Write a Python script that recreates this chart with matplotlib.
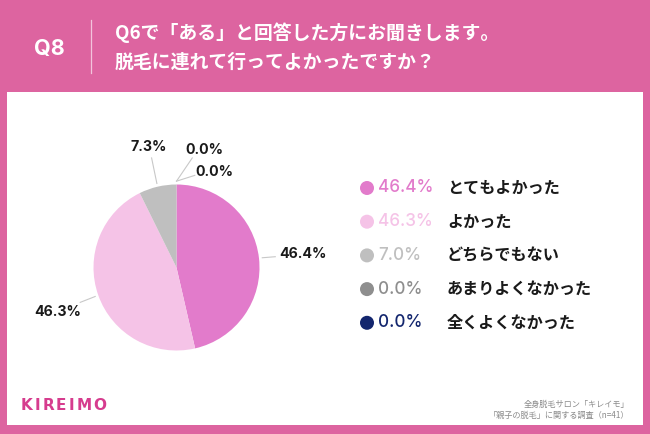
import matplotlib
matplotlib.use('Agg')
import numpy as np
import matplotlib.pyplot as plt
from matplotlib.patches import Rectangle, Circle

plt.rcParams['font.family'] = ['Noto Sans CJK JP', 'DejaVu Sans']
NUM_FONT = ['Inter', 'DejaVu Sans']

# ── data ────────────────────────────────────────────────────────────────────
categories = ['とてもよかった', 'よかった', 'どちらでもない', 'あまりよくなかった', '全くよくなかった']
pie_values = [46.4, 46.3, 7.3, 0.0, 0.0]
legend_pct = ['46.4%', '46.3%', '7.0%', '0.0%', '0.0%']
colors = ['#E27BCB', '#F5C3E7', '#BFBFBF', '#8E8E8E', '#13266E']

title_lines = ['Q6で「ある」と回答した方にお聞きします。', '脱毛に連れて行ってよかったですか？']
source_lines = ['全身脱毛サロン「キレイモ」', '「親子の脱毛」に関する調査（n=41）']

PINK = '#DD64A0'
W, H = 650, 434

fig = plt.figure(figsize=(6.5, 4.34), dpi=100)
fig.patch.set_facecolor(PINK)

# background / frame axes in pixel coords
bg = fig.add_axes([0, 0, 1, 1])
bg.set_xlim(0, W)
bg.set_ylim(H, 0)
bg.axis('off')
bg.add_patch(Rectangle((7, 92), 636, 333, facecolor='white', edgecolor='none'))

# header
bg.text(49, 49, 'Q8', color='white', fontsize=15.5, fontweight='bold',
        family=NUM_FONT, ha='center', va='center')
bg.plot([91, 91], [20, 73], color='#F3C4DC', lw=0.9)
for i, line in enumerate(title_lines):
    bg.text(115, 33 + i * 29, line, color='white', fontsize=13.6, fontweight='bold',
            ha='left', va='center')

# legend
for i, (cat, pct, col) in enumerate(zip(categories, legend_pct, colors)):
    y = 188 + i * 33.7
    bg.add_patch(Circle((367, y), 7, facecolor=col, edgecolor='none'))
    bg.text(378, y, pct, color=col, fontsize=12.3, fontweight='medium',
            family=NUM_FONT, ha='left', va='center')
    bg.text(447, y, cat, color='#1A1A1A', fontsize=11.6, fontweight='bold',
            ha='left', va='center')

# footer: brand with wide letter spacing
brand_steps = {'K': 13.5, 'I': 8.0, 'R': 13.5, 'E': 12.5, 'M': 17.0, 'O': 13.0}
bx = 21
for ch in 'KIREIMO':
    bg.text(bx, 405, ch, color='#D63C8E', fontsize=11, fontweight='bold',
            family=['DejaVu Sans'], ha='left', va='center')
    bx += brand_steps[ch]
for i, line in enumerate(source_lines):
    bg.text(629, 404 + i * 11.5, line, color='#8A8A8A', fontsize=5.9,
            ha='right', va='center')

# ── pie ─────────────────────────────────────────────────────────────────────
cx, cy, r = 176.5, 267.5, 83
ax = fig.add_axes([(cx - r) / W, (H - cy - r) / H, 2 * r / W, 2 * r / H])
wedges, _ = ax.pie(pie_values, colors=colors, startangle=90, counterclock=False,
                   radius=1, wedgeprops=dict(linewidth=0))
ax.set_xlim(-1, 1)
ax.set_ylim(-1, 1)
ax.set_aspect('equal')
ax.axis('off')

# label placement (radius units): text position and leader end
label_pos = [(1.52, 0.16), (-1.43, -0.54), (-0.33, 1.45), (0.34, 1.42), (0.46, 1.15)]
leader_end = [(1.19, 0.13), (-1.16, -0.42), (-0.30, 1.32), (0.19, 1.32), (0.22, 1.11)]
for w, v, tp, le in zip(wedges, pie_values, label_pos, leader_end):
    ang = np.deg2rad((w.theta1 + w.theta2) / 2)
    sx, sy = 1.04 * np.cos(ang), 1.04 * np.sin(ang)
    ax.plot([sx, le[0]], [sy, le[1]], color='#C8C8C8', lw=0.8, clip_on=False)
    ax.text(tp[0], tp[1], f'{v:.1f}%', fontsize=10.2, fontweight='bold',
            family=NUM_FONT, color='#1A1A1A', ha='center', va='center',
            clip_on=False)

fig.savefig('out.png', dpi=100, facecolor=PINK)
